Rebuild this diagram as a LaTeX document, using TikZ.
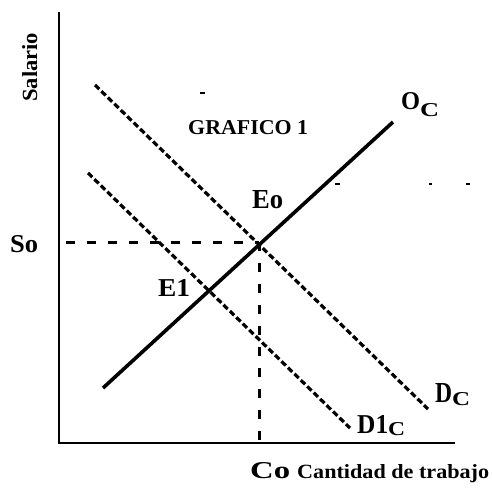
\documentclass[tikz,border=0pt]{standalone}
\usepackage{graphicx}
\usepackage{fontspec}
\setmainfont{Liberation Serif}
\newcommand{\fitb}[3]{\resizebox{#1pt}{#2pt}{\bfseries #3}}
\begin{document}
\begin{tikzpicture}[x=1pt,y=-1pt,
  lbl/.style={inner sep=0pt,anchor=base west,text=black},
  axisline/.style={line width=2.8pt},
  supply/.style={line width=3.6pt},
  demand/.style={line width=3.2pt,dash pattern=on 6pt off 3pt},
  guide/.style={line width=3pt,dash pattern=on 9pt off 12pt},
  speck/.style={line width=1.8pt}]
\useasboundingbox (0,0) rectangle (492,487);
\fill[white] (0,0) rectangle (492,487);
% axes
\coordinate (ytop) at (59,12);
\coordinate (orig) at (59,443);
\coordinate (xend) at (455,443);
\draw[axisline] (ytop) -- (orig) -- (xend);
% curves
\coordinate (oc1) at (103,388);
\coordinate (oc2) at (393,122);
\coordinate (dc1) at (95,85);
\coordinate (dc2) at (428,409);
\coordinate (d1c1) at (88,173);
\coordinate (d1c2) at (350,428);
\coordinate (e0) at (259,242);
\coordinate (sy) at (66,242);
\coordinate (cx) at (259,443);
\draw[demand] (dc1) -- (dc2);
\draw[demand] (d1c1) -- (d1c2);
\draw[guide] (sy) -- (e0);
\draw[guide] (e0) -- (cx);
\draw[supply] (oc1) -- (oc2);
% stray specks
\coordinate (s1a) at (200,93); \coordinate (s1b) at (205,93);
\coordinate (s2a) at (335,184); \coordinate (s2b) at (340,184);
\coordinate (s3a) at (429,184); \coordinate (s3b) at (432,184);
\coordinate (s4a) at (466,184); \coordinate (s4b) at (470,184);
\draw[speck] (s1a) -- (s1b);
\draw[speck] (s2a) -- (s2b);
\draw[speck] (s3a) -- (s3b);
\draw[speck] (s4a) -- (s4b);
% labels
\node[lbl,rotate=90] (salario) at (37,102) {\fitb{69}{15}{Salario}};
\node[lbl] (graf) at (188,134) {\fitb{120}{14}{GRAFICO 1}};
\node[lbl] (oc) at (401,109) {\fitb{19}{17}{O}\raisebox{-7pt}{\fitb{19}{13}{C}}};
\node[lbl] (eo) at (252,208) {\fitb{31}{18}{Eo}};
\node[lbl] (so) at (10,252) {\fitb{28}{17}{So}};
\node[lbl] (e1) at (158,296) {\fitb{32}{17}{E1}};
\node[lbl] (dc) at (435,402) {\fitb{17}{19}{D}\raisebox{-3pt}{\fitb{18}{13}{C}}};
\node[lbl] (d1c) at (357,433) {\fitb{31}{18}{D1}\raisebox{-2pt}{\fitb{17}{13}{C}}};
\node[lbl] (co) at (250,478) {\fitb{40}{16}{Co}};
\node[lbl] (cant) at (297,478) {\fitb{192}{14}{Cantidad de trabajo}};
\end{tikzpicture}
\end{document}
